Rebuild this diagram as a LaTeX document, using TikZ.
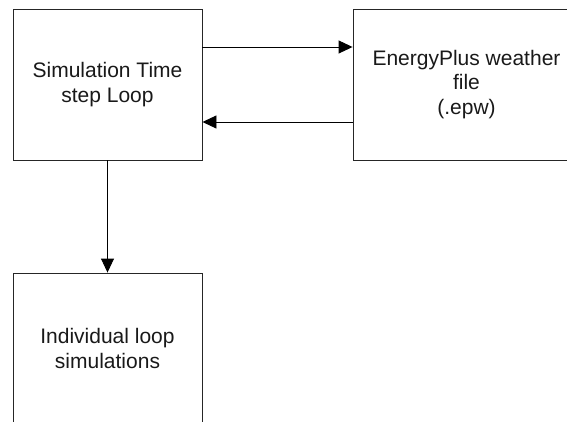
\documentclass[tikz,border=0pt]{standalone}
\usepackage{fontspec}
\setmainfont{Liberation Sans}
\usetikzlibrary{arrows.meta}
\begin{document}
\begin{tikzpicture}[x=1pt,y=-1pt,
  blockbox/.style={draw=black!85, line width=0.9pt, inner sep=0pt, align=center,
    font=\fontsize{21}{24.5}\selectfont, text=black!90},
  conn/.style={draw=black, line width=0.9pt, -{Triangle[length=14pt,width=13pt]}}]
\clip (0,0) rectangle (567,422);
\node[blockbox, minimum width=189pt, minimum height=151pt] (sim) at (107.5,84.5)
  {Simulation Time\\step Loop};
\node[blockbox, minimum width=227pt, minimum height=151pt] (epw) at (466.5,84.5)
  {EnergyPlus weather\\file\\(.epw)};
\node[blockbox, minimum width=189pt, minimum height=151pt] (ind) at (107.5,348.5)
  {Individual loop\\simulations};
\draw[conn] ([yshift=37.5pt]sim.east) -- ([yshift=37.5pt]epw.west);
\draw[conn] ([yshift=-37.5pt]epw.west) -- ([yshift=-37.5pt]sim.east);
\draw[conn] (sim.south) -- (ind.north);
\end{tikzpicture}
\end{document}
